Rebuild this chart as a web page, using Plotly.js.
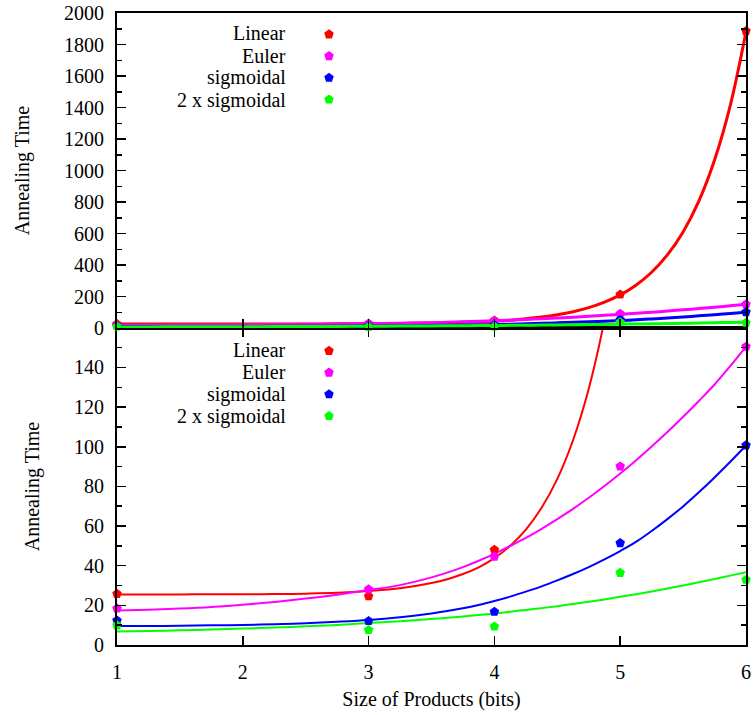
<!DOCTYPE html>
<html>
<head>
<meta charset="utf-8">
<script src="https://cdn.plot.ly/plotly-3.0.1.min.js"></script>
<style>html,body{margin:0;padding:0;background:#fff;}#chart{width:753px;height:715px;}</style>
</head>
<body>
<div id="chart"></div>
<script>
// ---- data ----
var seriesNames = ["Linear", "Euler", "sigmoidal", "2 x sigmoidal"];
var seriesColors = ["#ff0000", "#ff00ff", "#0000ff", "#00ff00"];

var pointX = [1, 3, 4, 5, 6];
var linearPts = [25.8, 24.6, 48, 213, 1885];
var eulerPts = [18.4, 28.1, 44.6, 90.1, 150.5];
var sigmoidalPts = [12.4, 12.1, 16.8, 51.4, 100.7];
var sigmoidal2Pts = [9.9, 7.6, 9.3, 36.4, 32.9];

// fitted curves
var curveX = [1, 1.25, 1.5, 1.75, 2, 2.25, 2.5, 2.75, 3, 3.25, 3.5, 3.625, 3.75, 3.875, 4, 4.125, 4.25, 4.375, 4.5, 4.625, 4.75, 4.875, 5, 5.125, 5.25, 5.375, 5.5, 5.625, 5.75, 5.875, 6];
var linearFit = [25.5, 25.5, 25.5, 25.6, 25.6, 25.7, 25.9, 26.3, 27.2, 28.6, 31.3, 33.2, 35.8, 39.2, 43.8, 50, 58.2, 69.2, 83.8, 103.3, 129.3, 164, 210, 272, 354, 464, 610, 805, 1066, 1413, 1880];
var eulerFit = [17.4, 17.8, 18.4, 19.2, 20.3, 21.7, 23.4, 25.4, 27.7, 30.2, 34.1, 36.5, 39.3, 42.5, 46, 49.9, 54, 58.6, 63.5, 68.7, 74.3, 80.2, 86.5, 93.1, 100.1, 107.4, 115.1, 123.1, 131.4, 140.7, 150.5];
var sigmoidalFit = [9.6, 9.6, 9.7, 9.9, 10.1, 10.5, 11, 11.7, 12.6, 14, 15.9, 17.1, 18.5, 20.2, 22.2, 24.4, 26.9, 29.6, 32.6, 35.8, 39.3, 43.2, 47.4, 52, 57.5, 63.5, 69.9, 77, 84.5, 92.4, 100.6];
var sigmoidal2Fit = [6.8, 7.1, 7.4, 7.8, 8.3, 8.8, 9.4, 10.1, 11.1, 12, 13.1, 13.7, 14.4, 15.1, 15.9, 16.8, 17.7, 18.6, 19.6, 20.7, 21.8, 23, 24.3, 25.6, 27, 28.5, 30, 31.6, 33.3, 35, 36.7];

var xTickVals = [1, 2, 3, 4, 5, 6];
var xTitle = "Size of Products (bits)";
var yTitle = "Annealing Time";

// ---- build ----
var pts = [linearPts, eulerPts, sigmoidalPts, sigmoidal2Pts];
var fits = [linearFit, eulerFit, sigmoidalFit, sigmoidal2Fit];
var FONT = "'Liberation Serif', 'Times New Roman', Times, serif";
var traces = [];
[["x2", "y2", 3, "legend"], ["x", "y", 2, "legend2"]].forEach(function (p) {
  for (var i = 0; i < 4; i++) {
    traces.push({
      x: curveX, y: fits[i], xaxis: p[0], yaxis: p[1], mode: "lines",
      line: {color: seriesColors[i], width: p[2], shape: "spline", smoothing: 1},
      showlegend: false, hoverinfo: "skip"
    });
  }
  for (var j = 0; j < 4; j++) {
    traces.push({
      x: pointX, y: pts[j], xaxis: p[0], yaxis: p[1], mode: "markers",
      name: " ", legend: p[3], cliponaxis: false,
      marker: {symbol: "pentagon", size: 10, color: seriesColors[j], line: {width: 0}}
    });
  }
});

var W = 753, H = 715, ML = 117, MR = 7, MT = 13, MB = 70;
var PW = W - ML - MR, PH = H - MT - MB;
function px2py(py) { return 1 - (py - MT) / PH; }
function px2px(pxv) { return (pxv - ML) / PW; }

var annotations = [];
[[33.5, 22.2], [350, 22.0]].forEach(function (r) {
  for (var i = 0; i < 4; i++) {
    annotations.push({
      xref: "paper", yref: "paper", x: px2px(288), y: px2py(r[0] + i * r[1]),
      xanchor: "right", yanchor: "middle", showarrow: false,
      text: seriesNames[i], font: {family: FONT, size: 20, color: "#000"}
    });
  }
});

var splitY = (645 - 328) / PH;
var axCommon = {
  showline: true, linecolor: "#000", linewidth: 2, showgrid: false, zeroline: false,
  ticks: "inside", tickcolor: "#000", tickwidth: 1.5, ticklen: 9,
  tickfont: {family: FONT, size: 20, color: "#000"}
};
function ax(o) { var r = {}; for (var k in axCommon) r[k] = axCommon[k]; for (var k2 in o) r[k2] = o[k2]; return r; }

var layout = {
  width: W, height: H,
  margin: {l: ML, r: MR, t: MT, b: MB},
  paper_bgcolor: "#fff", plot_bgcolor: "#fff",
  font: {family: FONT, size: 20, color: "#000"},
  showlegend: true,
  legend: {x: px2px(309), xanchor: "left", y: px2py(18.5), yanchor: "top",
           bgcolor: "rgba(0,0,0,0)", borderwidth: 0, font: {family: FONT, size: 14.4}, tracegroupgap: 0},
  legend2: {x: px2px(309), xanchor: "left", y: px2py(335), yanchor: "top",
            bgcolor: "rgba(0,0,0,0)", borderwidth: 0, font: {family: FONT, size: 14.4}, tracegroupgap: 0},
  xaxis: ax({domain: [0, 1], range: [1, 6], anchor: "y", tickmode: "array", tickvals: xTickVals,
             mirror: "ticks", ticklabelstandoff: 8,
             title: {text: xTitle, font: {family: FONT, size: 20}, standoff: 10}}),
  xaxis2: ax({domain: [0, 1], range: [1, 6], anchor: "y2", tickmode: "array", tickvals: xTickVals,
              mirror: true, showticklabels: false, matches: "x"}),
  yaxis: ax({domain: [0, splitY], range: [0, 159.9], anchor: "x", tickmode: "linear", tick0: 0, dtick: 20,
             mirror: "ticks", ticklabelstandoff: 7,
             minor: {ticks: "inside", ticklen: 5, tickwidth: 1.5, tickcolor: "#000", dtick: 10, tick0: 0, showgrid: false},
             title: {text: yTitle, font: {family: FONT, size: 20}, standoff: 29}}),
  yaxis2: ax({domain: [splitY, 1], range: [0, 2000], anchor: "x2", tickmode: "linear", tick0: 0, dtick: 200,
              mirror: "ticks", ticklabelstandoff: 7,
              minor: {ticks: "inside", ticklen: 5, tickwidth: 1.5, tickcolor: "#000", dtick: 100, tick0: 0, showgrid: false},
              title: {text: yTitle, font: {family: FONT, size: 20}, standoff: 29}}),
  annotations: annotations
};

Plotly.newPlot("chart", traces, layout, {displayModeBar: false, staticPlot: true});
</script>
</body>
</html>
